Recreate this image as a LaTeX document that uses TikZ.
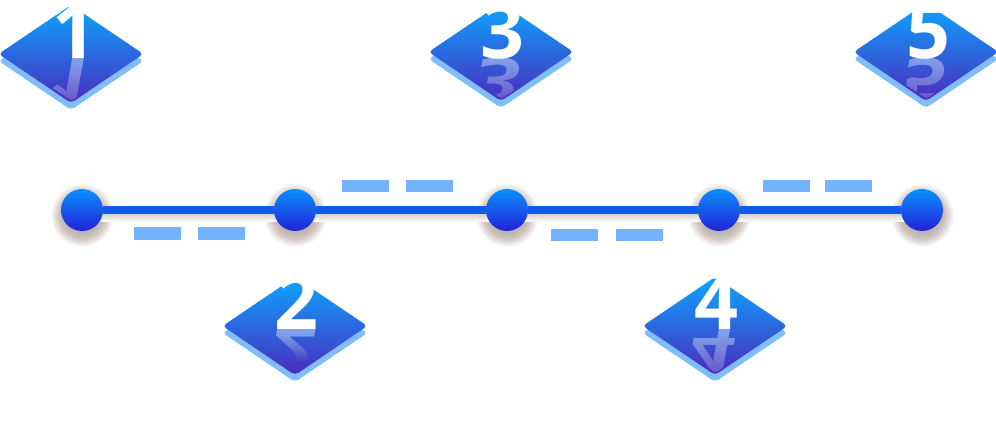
\documentclass[tikz,border=0pt]{standalone}
\usepackage{fontspec}
\setmainfont{Open Sans}
\usetikzlibrary{shapes.geometric, fadings}
\definecolor{platetop}{HTML}{0CA6FF}
\definecolor{platelow}{HTML}{4A2BBE}
\definecolor{plateside}{HTML}{7FBEFB}
\definecolor{dottop}{HTML}{0A90FF}
\definecolor{dotlow}{HTML}{2222D6}
\definecolor{linkblue}{HTML}{0F5CEB}
\definecolor{dashblue}{HTML}{73B3FF}
\definecolor{glow}{HTML}{CFC4BF}
\pgfdeclareradialshading{dotglow}{\pgfpoint{0bp}{0bp}}{color(0bp)=(glow!92!black); color(14bp)=(glow!92!black); color(18bp)=(glow); color(25bp)=(white); color(50bp)=(white)}
\pgfdeclareverticalshading{veillong}{100bp}{color(0bp)=(pgftransparent!0); color(8bp)=(pgftransparent!0); color(46bp)=(pgftransparent!100); color(100bp)=(pgftransparent!100)}
\pgfdeclareverticalshading{veilshort}{100bp}{color(0bp)=(pgftransparent!0); color(32bp)=(pgftransparent!0); color(46bp)=(pgftransparent!100); color(100bp)=(pgftransparent!100)}
\pgfdeclarefading{veillongfade}{\pgfuseshading{veillong}}
\pgfdeclarefading{veilshortfade}{\pgfuseshading{veilshort}}

\begin{document}
\begin{tikzpicture}[x=1bp, y=-1bp,
  plate/.style={diamond, minimum width=145bp, minimum height=98bp, inner sep=0, rounded corners=4, top color=platetop, bottom color=platelow},
  platebase/.style={diamond, minimum width=145bp, minimum height=98bp, inner sep=0, rounded corners=4, fill=plateside},
  veil/.style={plate, path fading=veillongfade},
  veiltight/.style={plate, path fading=veilshortfade},
  digit/.style={anchor=base, inner sep=0, text=white, font=\fontsize{77bp}{77bp}\selectfont\bfseries},
  mirror/.style={digit, opacity=.4, yscale=-.78, xslant=-.14, transform shape},
  dot/.style={circle, minimum size=42bp, inner sep=0, top color=dottop, bottom color=dotlow},
  dotshadow/.style={circle, minimum size=64bp, inner sep=0, shading=dotglow},
  dashbar/.style={rectangle, minimum width=47bp, minimum height=12.5bp, inner sep=0, fill=dashblue},
  glowbar/.style={rectangle, inner sep=0, minimum height=10bp, top color=glow, bottom color=white},
  link/.style={draw=linkblue, line width=7.5bp}]
  \useasboundingbox (0,0) rectangle (996,435);

  % plates
  \node [platebase] (b1) at (71,61) {};
  \node [plate] (p1) at (71,54) {};
  \node [platebase] (b2) at (295,333) {};
  \node [plate] (p2) at (295,326) {};
  \node [platebase] (b3) at (501,59) {};
  \node [plate] (p3) at (501,52) {};
  \node [platebase] (b4) at (715,333) {};
  \node [plate] (p4) at (715,326) {};
  \node [platebase] (b5) at (926,59) {};
  \node [plate] (p5) at (926,52) {};

  % reflections, then a faded copy of the plate over them
  \begin{scope}
    \clip (71,8) -- (141,54) -- (71,100) -- (1,54) -- cycle;
    \node [mirror] (m1) at (74,59) {1};
  \end{scope}
  \node [veil] (v1) at (71,54) {};
  \begin{scope}
    \clip (295,280) -- (365,326) -- (295,372) -- (225,326) -- cycle;
    \node [mirror] (m2) at (296,330) {2};
  \end{scope}
  \node [veiltight] (v2) at (295,326) {};
  \begin{scope}
    \clip (501,6) -- (571,52) -- (501,98) -- (431,52) -- cycle;
    \node [mirror] (m3) at (502,59) {3};
  \end{scope}
  \node [veil] (v3) at (501,52) {};
  \begin{scope}
    \clip (715,280) -- (785,326) -- (715,372) -- (645,326) -- cycle;
    \node [mirror] (m4) at (716,330) {4};
  \end{scope}
  \node [veil] (v4) at (715,326) {};
  \begin{scope}
    \clip (926,6) -- (996,52) -- (926,98) -- (856,52) -- cycle;
    \node [mirror] (m5) at (928,59) {5};
  \end{scope}
  \node [veil] (v5) at (926,52) {};

  % digits
  \node [digit] (d1) at (74,59) {1};
  \node [digit] (d2) at (296,330) {2};
  \node [digit] (d3) at (502,59) {3};
  \node [digit] (d4) at (716,330) {4};
  \node [digit] (d5) at (928,59) {5};

  % timeline
  \node [dotshadow] (h1) at (82,215) {};
  \node [dotshadow] (h2) at (295,215) {};
  \node [dotshadow] (h3) at (507,215) {};
  \node [dotshadow] (h4) at (719,215) {};
  \node [dotshadow] (h5) at (922,215) {};
  \node [glowbar, minimum width=840bp] (g) at (502,217) {};
  \node [dot] (n1) at (82,210) {};
  \node [dot] (n2) at (295,210) {};
  \node [dot] (n3) at (507,210) {};
  \node [dot] (n4) at (719,210) {};
  \node [dot] (n5) at (922,210) {};
  \draw [link] (n1) -- (n2);
  \draw [link] (n2) -- (n3);
  \draw [link] (n3) -- (n4);
  \draw [link] (n4) -- (n5);

  % dashes
  \node [dashbar] (s1) at (157.5,233.5) {};
  \node [dashbar] (s2) at (221.5,233.5) {};
  \node [dashbar] (s3) at (365,186) {};
  \node [dashbar] (s4) at (429.5,186) {};
  \node [dashbar] (s5) at (574.5,235) {};
  \node [dashbar] (s6) at (639.5,235) {};
  \node [dashbar] (s7) at (786,186) {};
  \node [dashbar] (s8) at (848.5,186) {};
\end{tikzpicture}
\end{document}
